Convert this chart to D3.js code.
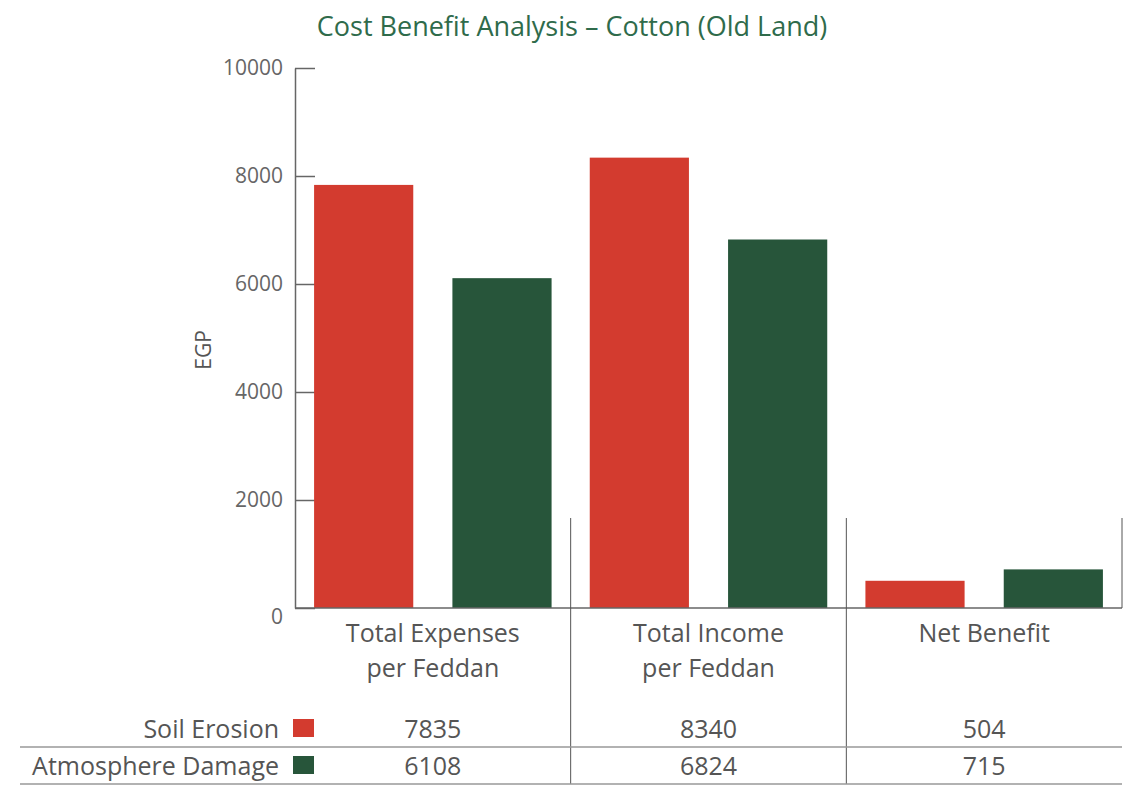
<!DOCTYPE html>
<html>
<head>
<meta charset="utf-8">
<script src="https://cdn.jsdelivr.net/npm/d3@7"></script>
<style>
  body { margin: 0; background: #fff; }
  text { font-family: "Open Sans", sans-serif; }
</style>
</head>
<body>
<div id="chart"></div>
<script>
// Data
var categories = ["Total Expenses|per Feddan", "Total Income|per Feddan", "Net Benefit"];
var seriesNames = ["Soil Erosion", "Atmosphere Damage"];
var soilErosion = [7835, 8340, 504];
var atmosphereDamage = [6108, 6824, 715];
var yTicks = [0, 2000, 4000, 6000, 8000, 10000];

var colors = ["#d33b2f", "#27553a"];
var series = [soilErosion, atmosphereDamage];

var width = 1135, height = 787;
var plotLeft = 295, plotRight = 1122, plotTop = 68, plotBottom = 608;

var svg = d3.select("#chart").append("svg")
    .attr("width", width)
    .attr("height", height);

// Title
svg.append("text")
    .attr("x", 572)
    .attr("y", 36)
    .attr("text-anchor", "middle")
    .attr("fill", "#2f6b4b")
    .style("font-size", "27px")
    .text("Cost Benefit Analysis – Cotton (Old Land)");

// Scales
var y = d3.scaleLinear().domain([0, 10000]).range([plotBottom, plotTop]);
var x0 = d3.scaleBand().domain(d3.range(categories.length)).range([plotLeft, plotRight]);
var x1 = d3.scaleBand().domain(d3.range(series.length))
    .range([0, x0.bandwidth()])
    .paddingInner(0.283)
    .paddingOuter(0.138);

// Y axis
var yAxis = d3.axisLeft(y).tickValues(yTicks).tickFormat(d3.format("d"))
    .tickSize(-20).tickSizeOuter(0);
var gy = svg.append("g")
    .attr("transform", "translate(" + plotLeft + ",0)")
    .call(yAxis);
gy.select(".domain").attr("stroke", "#666").attr("stroke-width", 1.5);
gy.selectAll(".tick line").attr("stroke", "#666").attr("stroke-width", 1.5);
gy.selectAll(".tick text")
    .attr("fill", "#666")
    .style("font-size", "21px")
    .attr("dy", "0.32em")
    .attr("x", -12);
gy.selectAll(".tick").filter(function (d) { return d === 0; }).select("text").attr("dy", "0.75em");

// Y label
svg.append("text")
    .attr("transform", "translate(211,350) rotate(-90)")
    .attr("text-anchor", "middle")
    .attr("fill", "#555")
    .style("font-size", "21px")
    .text("EGP");

// Bars
var groups = svg.selectAll("g.cat")
    .data(categories)
    .enter()
    .append("g")
    .attr("class", "cat")
    .attr("transform", function (d, i) { return "translate(" + x0(i) + ",0)"; });

groups.selectAll("rect")
    .data(function (d, i) {
        return series.map(function (s, j) { return { s: j, v: s[i] }; });
    })
    .enter()
    .append("rect")
    .attr("x", function (d) { return x1(d.s); })
    .attr("y", function (d) { return y(d.v); })
    .attr("width", x1.bandwidth())
    .attr("height", function (d) { return plotBottom - y(d.v); })
    .attr("fill", function (d) { return colors[d.s]; });

// Baseline
svg.append("line")
    .attr("x1", plotLeft).attr("x2", plotRight)
    .attr("y1", plotBottom).attr("y2", plotBottom)
    .attr("stroke", "#666").attr("stroke-width", 1.5);

// Category separators
d3.range(1, categories.length).forEach(function (i) {
    svg.append("line")
        .attr("x1", x0(i)).attr("x2", x0(i))
        .attr("y1", 518).attr("y2", 784)
        .attr("stroke", "#555").attr("stroke-width", 1);
});
svg.append("line")
    .attr("x1", plotRight).attr("x2", plotRight)
    .attr("y1", 518).attr("y2", plotBottom)
    .attr("stroke", "#555").attr("stroke-width", 1);

// Category labels
categories.forEach(function (c, i) {
    var lines = c.split("|");
    var t = svg.append("text")
        .attr("x", x0(i) + x0.bandwidth() / 2)
        .attr("y", 642)
        .attr("text-anchor", "middle")
        .attr("fill", "#555")
        .style("font-size", "25px");
    lines.forEach(function (l, k) {
        t.append("tspan")
            .attr("x", x0(i) + x0.bandwidth() / 2)
            .attr("dy", k === 0 ? 0 : 35)
            .text(l);
    });
});

// Table rows
var rowY = [738, 775];
seriesNames.forEach(function (name, j) {
    svg.append("text")
        .attr("x", 279)
        .attr("y", rowY[j])
        .attr("text-anchor", "end")
        .attr("fill", "#555")
        .style("font-size", "25px")
        .text(name);
    svg.append("rect")
        .attr("x", 293).attr("y", rowY[j] - 19)
        .attr("width", 21).attr("height", 18)
        .attr("fill", colors[j]);
    series[j].forEach(function (v, i) {
        svg.append("text")
            .attr("x", x0(i) + x0.bandwidth() / 2)
            .attr("y", rowY[j])
            .attr("text-anchor", "middle")
            .attr("fill", "#555")
            .style("font-size", "25px")
            .text(v);
    });
});

// Table lines
svg.append("line")
    .attr("x1", 20).attr("x2", plotRight)
    .attr("y1", 747).attr("y2", 747)
    .attr("stroke", "#999").attr("stroke-width", 1.5);
svg.append("line")
    .attr("x1", 20).attr("x2", plotRight)
    .attr("y1", 784).attr("y2", 784)
    .attr("stroke", "#999").attr("stroke-width", 1.5);
</script>
</body>
</html>
